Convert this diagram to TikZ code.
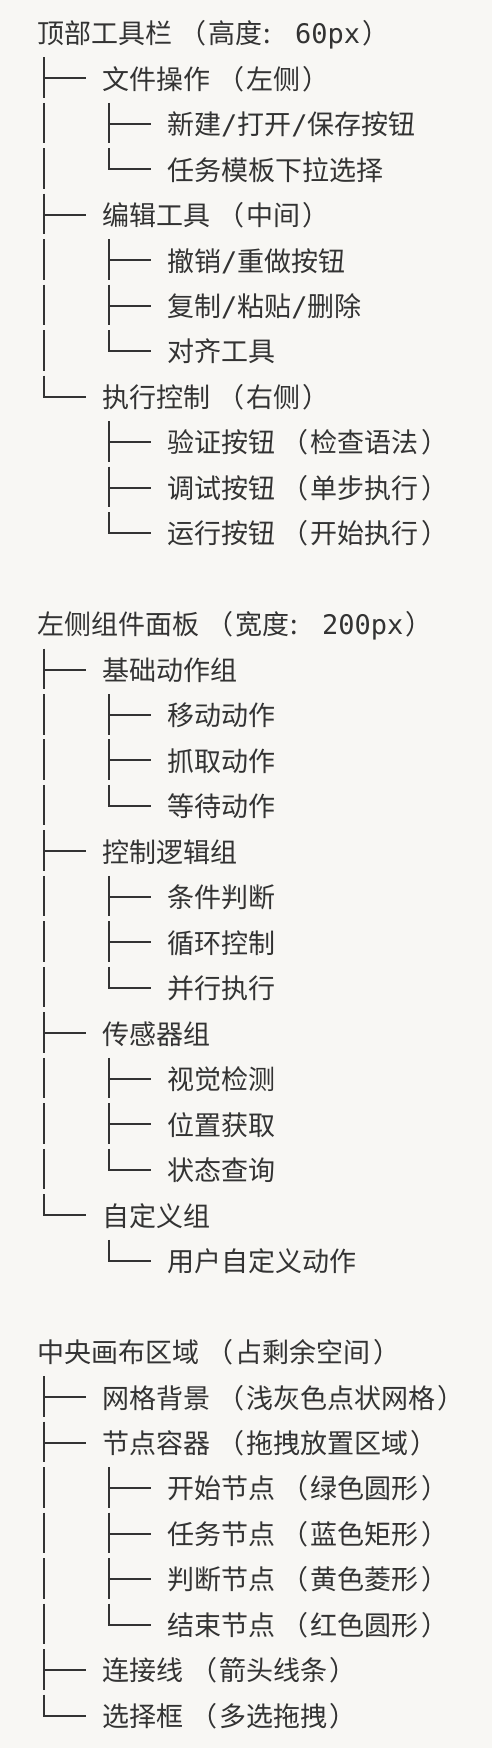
\documentclass[tikz,border=0pt]{standalone}
\usepackage{fontspec}
\setmainfont{Noto Sans CJK SC}
\newfontfamily\asc{DejaVu Sans Mono}
\definecolor{ink}{HTML}{333333}
\definecolor{paper}{HTML}{F8F7F4}
\newcommand\RY[1]{32.8+45.48*(#1-1)}
\newcommand\trV[2]{\draw[tree] (#1,{\RY{#2}-21}) -- (#1,{\RY{#2}+19.5});}
\newcommand\trT[3]{\trV{#1}{#2}\draw[tree] (#1,{\RY{#2}}) -- (#3,{\RY{#2}});}
\newcommand\trL[3]{\draw[tree] (#1,{\RY{#2}-21}) -- (#1,{\RY{#2}}) -- (#3,{\RY{#2}});}
\newcommand\oneTee[1]{\trT{44.3}{#1}{85.8}}
\newcommand\oneEnd[1]{\trL{44.3}{#1}{85.8}}
\newcommand\oneBar[1]{\trV{44.3}{#1}}
\newcommand\twoTee[1]{\trT{109.3}{#1}{150.8}}
\newcommand\twoEnd[1]{\trL{109.3}{#1}{150.8}}
\newcommand\tx[4]{\node[rowtext] (#1) at (#2,{\RY{#3}+10.8}) {#4};}
\newcommand\ascColon{\makebox[32.4pt][l]{\kern1pt:}}
\catcode`（=\active \def（{\kern7pt\char"FF08\kern2pt\relax}
\catcode`）=\active \def）{\kern2.5pt\char"FF09\relax}
\begin{document}
\begin{tikzpicture}[x=1pt,y=-1pt,
  tree/.style={draw=ink,line width=2pt,line join=miter},
  rowtext/.style={anchor=base west,inner sep=0pt,text=ink,font=\fontsize{27}{27}\selectfont}]
\fill[paper] (0,0) rectangle (492,1748);
\useasboundingbox (0,0) rectangle (492,1748);
% ---- section 1
\tx{s1}{37.5}{1}{顶部工具栏（高度\ascColon{\asc 60px}）}
\oneTee{2}\tx{a1}{102}{2}{文件操作（左侧）}
\oneBar{3}\twoTee{3}\tx{a1x}{166.8}{3}{新建{\asc/}打开{\asc/}保存按钮}
\oneBar{4}\twoEnd{4}\tx{a1y}{166.8}{4}{任务模板下拉选择}
\oneTee{5}\tx{a2}{102}{5}{编辑工具（中间）}
\oneBar{6}\twoTee{6}\tx{a2x}{166.8}{6}{撤销{\asc/}重做按钮}
\oneBar{7}\twoTee{7}\tx{a2y}{166.8}{7}{复制{\asc/}粘贴{\asc/}删除}
\oneBar{8}\twoEnd{8}\tx{a2z}{166.8}{8}{对齐工具}
\oneEnd{9}\tx{a3}{102}{9}{执行控制（右侧）}
\twoTee{10}\tx{a3x}{166.8}{10}{验证按钮（检查语法）}
\twoTee{11}\tx{a3y}{166.8}{11}{调试按钮（单步执行）}
\twoEnd{12}\tx{a3z}{166.8}{12}{运行按钮（开始执行）}
% ---- section 2
\tx{s2}{37.5}{14}{左侧组件面板（宽度\ascColon{\asc 200px}）}
\oneTee{15}\tx{b1}{102}{15}{基础动作组}
\oneBar{16}\twoTee{16}\tx{b1x}{166.8}{16}{移动动作}
\oneBar{17}\twoTee{17}\tx{b1y}{166.8}{17}{抓取动作}
\oneBar{18}\twoEnd{18}\tx{b1z}{166.8}{18}{等待动作}
\oneTee{19}\tx{b2}{102}{19}{控制逻辑组}
\oneBar{20}\twoTee{20}\tx{b2x}{166.8}{20}{条件判断}
\oneBar{21}\twoTee{21}\tx{b2y}{166.8}{21}{循环控制}
\oneBar{22}\twoEnd{22}\tx{b2z}{166.8}{22}{并行执行}
\oneTee{23}\tx{b3}{102}{23}{传感器组}
\oneBar{24}\twoTee{24}\tx{b3x}{166.8}{24}{视觉检测}
\oneBar{25}\twoTee{25}\tx{b3y}{166.8}{25}{位置获取}
\oneBar{26}\twoEnd{26}\tx{b3z}{166.8}{26}{状态查询}
\oneEnd{27}\tx{b4}{102}{27}{自定义组}
\twoEnd{28}\tx{b4x}{166.8}{28}{用户自定义动作}
% ---- section 3
\tx{s3}{37.5}{30}{中央画布区域（占剩余空间）}
\oneTee{31}\tx{c1}{102}{31}{网格背景（浅灰色点状网格）}
\oneTee{32}\tx{c2}{102}{32}{节点容器（拖拽放置区域）}
\oneBar{33}\twoTee{33}\tx{c2w}{166.8}{33}{开始节点（绿色圆形）}
\oneBar{34}\twoTee{34}\tx{c2x}{166.8}{34}{任务节点（蓝色矩形）}
\oneBar{35}\twoTee{35}\tx{c2y}{166.8}{35}{判断节点（黄色菱形）}
\oneBar{36}\twoEnd{36}\tx{c2z}{166.8}{36}{结束节点（红色圆形）}
\oneTee{37}\tx{c3}{102}{37}{连接线（箭头线条）}
\oneEnd{38}\tx{c4}{102}{38}{选择框（多选拖拽）}
\end{tikzpicture}
\end{document}
